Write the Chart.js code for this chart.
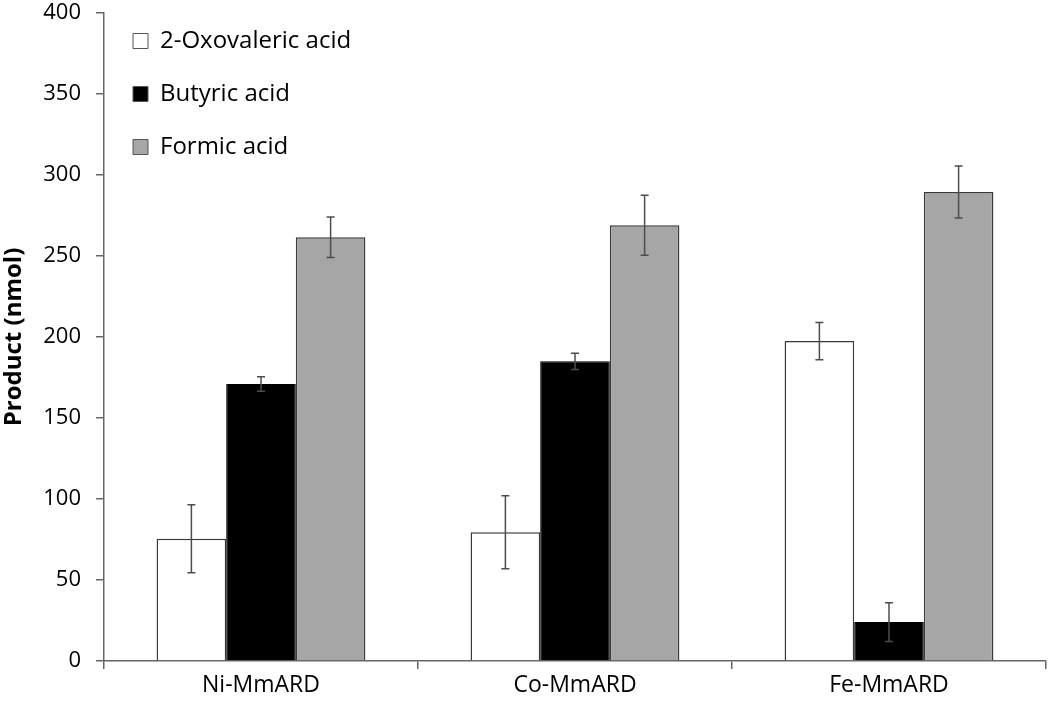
<!DOCTYPE html>
<html>
<head>
<meta charset="utf-8">
<script src="https://cdn.jsdelivr.net/npm/chart.js@4.4.1/dist/chart.umd.min.js"></script>
<style>
html,body{margin:0;padding:0;background:#fff;}
#wrap{width:1050px;height:709px;position:relative;}
</style>
</head>
<body>
<div id="wrap"><canvas id="c" width="1050" height="709"></canvas></div>
<script>
const categories = ["Ni-MmARD", "Co-MmARD", "Fe-MmARD"];
const seriesNames = ["2-Oxovaleric acid", "Butyric acid", "Formic acid"];
const oxovaleric = [75.5, 79.5, 197.5];
const oxovalericErr = [21, 22.5, 11.5];
const butyric = [171, 185, 24];
const butyricErr = [4.5, 5, 12];
const formic = [261.5, 269, 289.5];
const formicErr = [12.5, 18.5, 16];
const yTicks = [0, 50, 100, 150, 200, 250, 300, 350, 400];

const FONT = "'Open Sans', 'Liberation Sans', sans-serif";

const errorBars = {
  id: 'errorBars',
  afterDatasetsDraw(chart) {
    const ctx = chart.ctx;
    const y = chart.scales.y;
    chart.data.datasets.forEach((ds, i) => {
      const meta = chart.getDatasetMeta(i);
      meta.data.forEach((bar, j) => {
        const v = ds.data[j], e = ds.errors[j];
        const top = y.getPixelForValue(v + e);
        const bot = y.getPixelForValue(v - e);
        ctx.save();
        ctx.strokeStyle = '#4d4d4d';
        ctx.lineWidth = 1.5;
        ctx.beginPath();
        ctx.moveTo(bar.x, top); ctx.lineTo(bar.x, bot);
        ctx.moveTo(bar.x - 4, top); ctx.lineTo(bar.x + 4, top);
        ctx.moveTo(bar.x - 4, bot); ctx.lineTo(bar.x + 4, bot);
        ctx.stroke();
        ctx.restore();
      });
    });
  }
};

new Chart(document.getElementById('c'), {
  type: 'bar',
  data: {
    labels: categories,
    datasets: [
      { label: seriesNames[0], data: oxovaleric, errors: oxovalericErr, backgroundColor: '#ffffff', borderColor: '#3a3a3a', borderWidth: 1.5 },
      { label: seriesNames[1], data: butyric, errors: butyricErr, backgroundColor: '#000000', borderColor: '#000000', borderWidth: 1 },
      { label: seriesNames[2], data: formic, errors: formicErr, backgroundColor: '#a6a6a6', borderColor: '#3a3a3a', borderWidth: 1.5 }
    ]
  },
  options: {
    responsive: false,
    animation: false,
    devicePixelRatio: 1,
    layout: { padding: { top: 13, right: 4, left: 0, bottom: 0 } },
    datasets: { bar: { barPercentage: 1, categoryPercentage: 0.665 } },
    plugins: {
      legend: {
        position: 'chartArea',
        align: 'start',
        labels: {
          font: { family: FONT, size: 24 },
          color: '#000',
          boxWidth: 15,
          boxHeight: 15,
          padding: 29,
          generateLabels(chart) {
            return chart.data.datasets.map((ds, i) => ({
              text: ds.label,
              fillStyle: ds.backgroundColor,
              strokeStyle: '#555',
              fontColor: '#000',
              lineWidth: 1,
              datasetIndex: i
            }));
          }
        }
      },
      tooltip: { enabled: false }
    },
    scales: {
      x: {
        afterFit(axis) { axis.height = 48; },
        grid: { display: true, drawOnChartArea: false, drawTicks: true, tickLength: 8, color: '#666', lineWidth: 1.5 },
        border: { color: '#666', width: 1.5 },
        ticks: { font: { family: FONT, size: 23 }, color: '#000', padding: 3 }
      },
      y: {
        min: 0, max: 400,
        afterFit(axis) { axis.width = 104; axis.paddingTop = 0; axis.paddingBottom = 0; },
        afterBuildTicks(axis) { axis.ticks = yTicks.map(v => ({ value: v })); },
        grid: { display: true, drawOnChartArea: false, drawTicks: true, tickLength: 8, color: '#666', lineWidth: 1.5 },
        border: { color: '#666', width: 1.5 },
        ticks: { font: { family: FONT, size: 22 }, color: '#000', padding: 15 },
        title: { display: true, text: 'Product (nmol)', font: { family: FONT, size: 24, weight: 'bold' }, color: '#000', padding: { top: 0, bottom: 4 } }
      }
    }
  },
  plugins: [errorBars]
});
</script>
</body>
</html>
